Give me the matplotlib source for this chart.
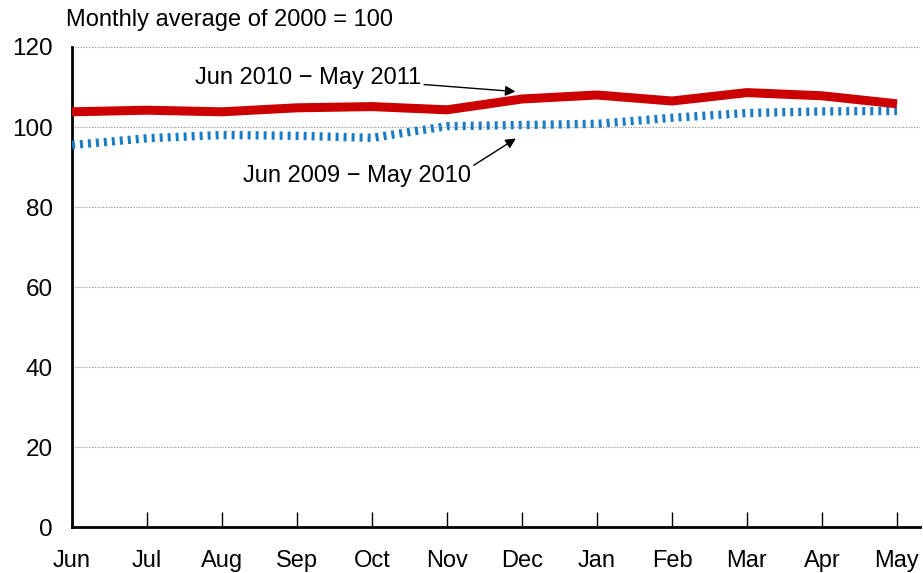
import matplotlib.pyplot as plt

plt.rcParams['font.family'] = ['Liberation Sans', 'DejaVu Sans']

months = ['Jun', 'Jul', 'Aug', 'Sep', 'Oct', 'Nov', 'Dec', 'Jan', 'Feb', 'Mar', 'Apr', 'May']
recent = [103.8, 104.2, 103.8, 104.8, 105.1, 104.3, 107.0, 108.0, 106.5, 108.6, 107.8, 105.8]
previous = [95.5, 97.2, 98.0, 97.8, 97.3, 100.2, 100.5, 100.8, 102.3, 103.5, 103.9, 104.0]
label_recent = 'Jun 2010 \u2212 May 2011'
label_previous = 'Jun 2009 \u2212 May 2010'

fig = plt.figure(figsize=(9.23, 5.73), dpi=100)
ax = fig.add_axes([0.078, 0.080, 0.919, 0.838])

x = list(range(len(months)))
ax.plot(x, previous, color='#1a7cc4', lw=6, linestyle=(0, (0.36, 0.6)), zorder=3)
ax.plot(x, recent, color='#cc0000', lw=6.5, solid_capstyle='butt', zorder=4)

ax.set_xlim(0, 11.31)
ax.set_ylim(0, 120)
ax.set_yticks(range(0, 121, 20))
ax.set_xticks(x)
ax.set_xticklabels(months)
ax.yaxis.grid(True, linestyle=(0, (1, 1.5)), color='#888888', lw=0.8)
ax.set_axisbelow(True)

for s in ['top', 'right']:
    ax.spines[s].set_visible(False)
for s in ['left', 'bottom']:
    ax.spines[s].set_linewidth(2)
    ax.spines[s].set_color('black')

ax.tick_params(axis='y', length=0, pad=14, labelsize=17.5)
ax.tick_params(axis='x', direction='in', length=11, width=1, pad=16.5, labelsize=17)
ax.xaxis.get_major_ticks()[0].tick1line.set_visible(False)

fig.text(0.072, 0.965, 'Monthly average of 2000 = 100', fontsize=17, va='center', ha='left')

ax.annotate(label_recent, xy=(5.95, 108.8), xytext=(3.15, 112.3),
            fontsize=17, ha='center', va='center',
            arrowprops=dict(arrowstyle='-|>', color='black', lw=1, mutation_scale=15,
                            shrinkA=118, relpos=(0.5, 0.6)))
ax.annotate(label_previous, xy=(5.95, 97.5), xytext=(3.8, 87.8),
            fontsize=17, ha='center', va='center',
            arrowprops=dict(arrowstyle='-|>', color='black', lw=1, mutation_scale=15,
                            shrinkA=0, relpos=(1.0, 0.9)))

fig.savefig('out.png', dpi=100)
